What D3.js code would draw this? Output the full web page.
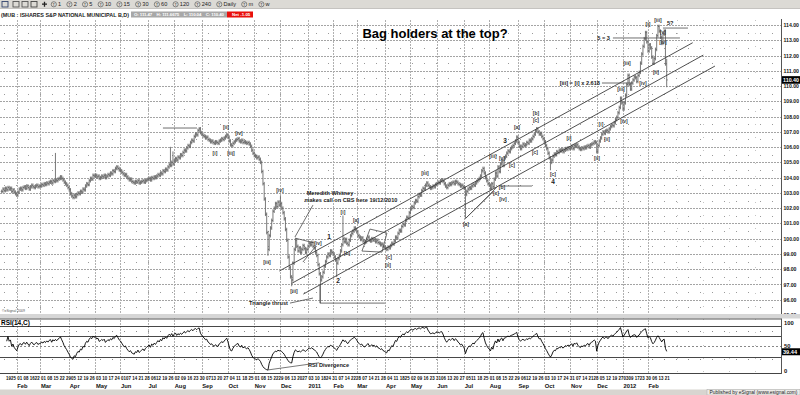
<!DOCTYPE html>
<meta charset="utf-8">
<body style="margin:0;background:#fff">
<svg width="800" height="395"></svg>
<script src="https://cdn.jsdelivr.net/npm/d3@7"></script>
<script>
// ---- data ----
const firstDay = "2010-01-13", lastDay = "2012-02-23";
const holidays = ["2010-01-18","2010-02-15","2010-04-02","2010-05-31","2010-07-05","2010-09-06","2010-11-25","2010-12-24",
  "2011-01-17","2011-02-21","2011-04-22","2011-05-30","2011-07-04","2011-09-05","2011-11-24","2011-12-26",
  "2012-01-02","2012-01-16","2012-02-20"];

// daily closes, one array per year
const close2010 = [
  103.10,103.25,103.15,103.30,103.20,103.35,103.25,103.30,103.10,103.20,103.05,102.95,
  102.85,103.05,103.25,103.30,103.20,103.35,103.40,103.30,103.45,103.35,103.25,103.40,103.50,103.40,103.35,103.45,103.50,103.40,103.45,
  103.45,103.55,103.50,103.60,103.55,103.65,103.60,103.70,103.75,103.65,103.80,103.75,103.85,103.80,103.90,103.95,104.05,103.95,103.85,103.70,103.60,103.50,103.35,
  103.20,102.95,102.80,102.70,102.85,102.75,102.90,103.00,102.95,103.10,103.05,103.25,103.20,103.45,103.60,103.55,103.80,103.95,103.90,104.15,104.10,
  104.15,104.05,104.10,103.95,104.00,104.10,104.05,104.15,104.00,104.10,104.20,104.15,104.30,104.25,104.45,104.40,104.60,104.70,104.60,104.50,
  104.45,104.35,104.25,104.15,104.20,104.05,103.95,103.85,103.90,103.75,103.70,103.65,103.75,103.70,103.80,103.65,103.70,103.75,103.80,103.70,103.80,103.85,
  103.90,103.95,103.85,104.00,103.95,104.05,104.00,104.10,104.20,104.15,104.30,104.25,104.45,104.40,104.55,104.50,104.70,104.85,104.80,105.00,104.90,
  105.10,105.25,105.15,105.35,105.30,105.50,105.45,105.65,105.80,105.75,105.95,106.10,106.05,106.30,106.45,106.40,106.70,106.85,106.80,107.10,107.20,106.95,
  106.85,106.75,106.70,106.60,106.65,106.50,106.45,106.35,106.40,106.30,106.25,106.35,106.30,106.25,106.40,106.45,106.55,106.50,106.60,106.70,106.80,
  106.65,106.40,106.15,106.10,106.25,106.35,106.45,106.50,106.55,106.40,106.35,106.45,106.30,106.35,106.30,106.25,106.30,106.20,106.05,105.80,105.60,
  105.45,105.40,105.30,105.35,105.20,105.00,104.40,103.60,102.60,101.60,100.40,99.30,100.20,100.70,101.20,101.80,102.00,102.30,102.10,102.40,102.20,
  102.30,102.00,101.70,101.30,100.60,99.90,98.80,98.10,97.50,97.30,98.40,99.30,99.90,99.50,99.20,99.40,99.10,99.30,99.55,99.35,99.10,99.30
];
const close2011 = [
  99.50,99.70,99.60,99.75,99.50,99.40,99.10,98.90,98.30,97.70,97.30,97.50,97.80,98.20,98.50,98.80,99.00,98.90,99.20,99.10,
  99.00,98.80,98.60,98.40,98.70,98.90,99.20,99.60,100.00,99.80,99.95,99.70,99.60,99.90,100.20,100.35,100.50,100.70,100.60,
  100.45,100.20,100.10,99.95,100.05,99.85,99.75,99.80,99.95,100.10,99.90,99.85,100.00,99.90,99.95,99.80,99.90,99.75,99.70,99.60,99.65,99.50,99.45,
  99.35,99.30,99.45,99.40,99.55,99.70,99.65,99.85,100.10,100.05,100.35,100.55,100.50,100.80,100.95,100.90,101.20,101.40,101.35,101.70,
  101.95,102.10,102.05,102.35,102.50,102.45,102.75,102.90,102.85,103.15,103.30,103.25,103.50,103.65,103.50,103.40,103.30,103.35,103.45,103.40,103.55,
  103.60,103.70,103.65,103.80,103.85,103.75,103.60,103.45,103.35,103.50,103.60,103.55,103.65,103.70,103.60,103.75,103.70,103.60,103.55,103.45,103.50,103.40,
  103.30,102.90,103.10,103.25,103.35,103.30,103.45,103.55,103.50,103.65,103.75,103.85,103.95,104.10,104.45,104.60,104.30,104.00,103.80,103.60,
  103.50,103.30,103.60,103.40,103.90,104.30,104.10,104.70,104.40,104.90,105.10,104.80,105.30,105.40,105.60,105.75,105.70,105.90,106.00,106.10,106.25,106.40,106.65,
  106.30,106.05,105.90,106.05,106.20,106.10,106.15,106.30,106.25,106.45,106.40,106.55,106.70,106.85,107.05,107.20,107.00,106.85,106.90,106.70,106.55,
  106.35,106.10,105.90,105.60,105.30,105.00,105.15,105.40,105.55,105.50,105.70,105.65,105.80,105.75,105.85,105.70,105.80,105.90,105.85,105.95,105.90,
  105.95,106.05,105.90,106.10,106.05,106.15,106.00,105.90,105.85,105.95,105.90,106.00,105.95,106.05,106.10,106.00,106.15,106.20,106.25,106.35,106.30,
  105.70,106.10,106.40,106.60,106.85,107.00,106.90,107.05,107.10,107.00,107.20,107.35,107.45,107.40,107.60,107.80,107.95,108.25,108.60,109.20,108.90
];
const close2012 = [
  108.50,108.90,109.40,110.10,110.70,110.10,109.80,110.20,110.40,110.60,110.55,110.30,110.70,110.90,111.50,112.10,112.60,113.10,113.50,112.90,
  112.30,112.70,112.50,111.90,111.50,111.80,112.40,113.30,113.90,113.60,113.20,112.80,113.40,113.60,111.45,110.40
];
const lastBar = { o: 111.47, h: 111.6675, l: 110.04, c: 110.40 };
const rsiLast = 39.44;

// bars whose range reached well past open/close: [bar, high, low]
const spikes = [[43,105.5,null],[135,105.9,null],[137,105.6,null],[213,null,99.0],[223,102.7,null],
  [232,null,97.0],[255,null,95.9],[268,null,97.6],[273,101.4,null],[371,null,101.4],[439,null,104.6]];

const priceTicks = [95,96,97,98,99,100,101,102,103,104,105,106,107,108,109,110,111,112,113,114];
const rsiLines = [90, 70, 30];
const rsiDots = [80, 50, 25];
const rsiTickLabels = [100, 50, 0];
const intervals = ["1","2","5","10","15","30","60","120","240","Daily","m","w"];

// elliott wave labels: [bar, price, text]
const waveLabels = [
  [179.4,107.32,"[ii]"],[189.8,106.92,"[iv]"],[170.6,105.61,"[i]"],[183.4,105.61,"[iii]"],
  [222.6,103.19,"[iv]"],[212.2,98.47,"[iii]"],[233.8,96.57,"[iii]"],[253.0,99.71,"[iv]"],
  [273.0,101.75,"[i]"],[283.4,101.22,"[a]"],[276.2,99.06,"[b]"],[309.8,98.80,"[c]"],[309.0,98.27,"[ii]"],
  [338.6,104.30,"[iii]"],[371.4,100.96,"[a]"],[395.4,102.99,"[c]"],[400.2,103.38,"[b]"],[401.0,102.60,"[iv]"],
  [393.0,105.42,"[iii]"],[400.2,105.28,"[v]"],[408.2,104.83,"[c]"],[412.2,107.32,"[a]"],
  [427.4,108.23,"[b]"],[427.4,107.77,"[c]"],[426.6,105.68,"[c]"],[441.0,104.24,"[c]"],
  [453.8,106.60,"[i]"],[476.2,105.28,"[ii]"],[479.4,107.51,"[i]"],[484.2,106.53,"[ii]"],
  [497.8,107.71,"[iv]"],[495.4,109.81,"[iii]"],[500.2,111.51,"[iii]"],[513.0,110.20,"[iv]"],
  [523.4,110.92,"[ii]"],[529.0,112.89,"[iv]"],[517.0,114.07,"[i]"],[525.0,114.33,"[iii]"],[529.0,113.54,"[v]"]
];
// wave counts in plain numbers: [bar, price, text]
const countLabels = [[261.8,100.11,"1"],[269.0,97.22,"2"],[402.6,106.40,"3"],[441.0,103.71,"4"]];
// notes: [bar, price, anchor, text]
const notes = [
  [229.0,95.78,"end","Triangle thrust"],
  [262.6,102.99,"middle","Meredith Whitney"],
  [279.4,102.53,"middle","makes call on CBS here 19/12/2010"],
  [478.6,110.20,"end","[iii] = [i] x 2.618"],
  [486.6,113.15,"end","5 = 3"],
  [532.2,114.13,"start","5?"]
];
// drawn lines: lists of [bar, price]
const channels = [
  [[222.1,97.88],[552.8,112.84]],
  [[232.0,97.07],[561.3,112.03]],
  [[241.3,96.37],[570.6,111.31]]
];
const sketches = [
  [[129.0,107.25],[156.2,107.25]],
  [[249.0,102.20],[234.6,100.11]],
  [[234.6,100.04],[250.6,99.71]],
  [[241.0,98.47],[250.6,99.44]],
  [[230.6,95.78],[249.0,96.11]],
  [[254.6,96.96],[254.6,95.78],[306.6,95.78]],
  [[294.6,100.63],[308.2,100.37],[304.2,99.12],[288.2,99.19],[294.6,100.63]],
  [[371.4,101.35],[396.2,103.38]],
  [[371.4,101.35],[393.0,103.06]],
  [[398.6,103.45],[424.2,103.45]],
  [[480.2,110.20],[504.2,110.20]],
  [[489.0,113.15],[542.6,113.15]],
  [[529.0,113.80],[549.0,113.80]]
];
// RSI divergence line: [bar, rsi]
const rsiDivergence = [[213, 4], [254, 18]];

// ---- setup ----
const svg = d3.select("svg").attr("font-family", "'Liberation Sans', Arial, sans-serif");
const closes = close2010.concat(close2011, close2012);
const N = closes.length;
const parse = d3.utcParse("%Y-%m-%d"), key = d3.utcFormat("%Y-%m-%d");
const hol = new Set(holidays);
const days = d3.utcDay.range(parse(firstDay), d3.utcDay.offset(parse(lastDay), 1))
  .filter(d => d.getUTCDay() % 6 !== 0 && !hol.has(key(d))).slice(0, N);

const axisX = 781;
const x = d3.scaleLinear().domain([0, N - 1]).range([1.7, 1.7 + 1.25 * (N - 1)]);
const y = d3.scaleLinear().domain([95, 114]).range([315, 25]);
const yr = d3.scaleLinear().domain([0, 100]).range([372, 320.7]);

svg.append("rect").attr("width", 800).attr("height", 395).attr("fill", "#fff");

// ---- grid ----
const grid = svg.append("g");
priceTicks.forEach(t => {
  grid.append("line").attr("x1", 0).attr("x2", axisX).attr("y1", Math.round(y(t)) + .5).attr("y2", Math.round(y(t)) + .5)
    .attr("stroke", "#a4a4a4").attr("stroke-dasharray", "2,1");
  if (t < 114) grid.append("line").attr("x1", 4).attr("x2", axisX).attr("y1", Math.round(y(t + .5)) + .5).attr("y2", Math.round(y(t + .5)) + .5)
    .attr("stroke", "#9a9a9a").attr("stroke-dasharray", "1,11");
});
const monthStarts = days.map((d, i) => i).filter(i => i > 0 && days[i].getUTCMonth() !== days[i - 1].getUTCMonth());
monthStarts.forEach(i => {
  grid.append("line").attr("x1", Math.round(x(i)) + .5).attr("x2", Math.round(x(i)) + .5).attr("y1", 20).attr("y2", 373)
    .attr("stroke", "#b0b0b0").attr("stroke-dasharray", "2,1");
});
// dotted columns over the empty right side
d3.range(1, 5).forEach(k => {
  const xx = Math.round(x(N - 1) + 26 * k - 16) + .5;
  if (xx < axisX - 5) grid.append("line").attr("x1", xx).attr("x2", xx).attr("y1", 20).attr("y2", 373)
    .attr("stroke", "#c4c4c4").attr("stroke-dasharray", "1,12");
});

// ---- price bars ----
const spikeMap = new Map(spikes.map(s => [s[0], s]));
let dBars = "";
closes.forEach((c, i) => {
  let o = i ? closes[i - 1] : c, hi = Math.max(o, c), lo = Math.min(o, c);
  if (i === N - 1) { o = lastBar.o; hi = lastBar.h; lo = lastBar.l; c = lastBar.c; }
  const s = spikeMap.get(i);
  if (s) { if (s[1] != null) hi = Math.max(hi, s[1]); if (s[2] != null) lo = Math.min(lo, s[2]); }
  const xi = x(i);
  dBars += `M${xi},${y(hi) - 1.8}V${y(lo) + 1.8}M${xi - 1},${y(o)}H${xi}M${xi},${y(c)}H${xi + 1}`;
});
svg.append("path").attr("d", dBars).attr("fill", "none").attr("stroke", "#6a6a6a").attr("stroke-width", 0.9);

// ---- drawn lines ----
const lineGen = d3.line().x(d => x(d[0])).y(d => y(d[1]));
svg.append("g").selectAll("path").data(channels).join("path")
  .attr("d", lineGen).attr("fill", "none").attr("stroke", "#3c3c3c").attr("stroke-width", 0.9);
svg.append("g").selectAll("path").data(sketches).join("path")
  .attr("d", lineGen).attr("fill", "none").attr("stroke", "#4a4a4a").attr("stroke-width", 0.8);

// ---- labels ----
svg.append("g").selectAll("text").data(waveLabels).join("text")
  .attr("x", d => x(d[0])).attr("y", d => y(d[1])).attr("dy", "0.35em")
  .attr("text-anchor", "middle").attr("font-size", 5).attr("font-weight", "bold").attr("fill", "#3a3a3a")
  .text(d => d[2]);
svg.append("g").selectAll("text").data(countLabels).join("text")
  .attr("x", d => x(d[0])).attr("y", d => y(d[1])).attr("dy", "0.35em")
  .attr("text-anchor", "middle").attr("font-size", 6.5).attr("font-weight", "bold").attr("fill", "#222")
  .text(d => d[2]);
svg.append("g").selectAll("text").data(notes).join("text")
  .attr("x", d => x(d[0])).attr("y", d => y(d[1])).attr("dy", "0.35em")
  .attr("text-anchor", d => d[2]).attr("font-size", 5.6).attr("font-weight", "bold").attr("fill", "#222")
  .text(d => d[3]);

svg.append("text").attr("x", 435).attr("y", 38).attr("text-anchor", "middle")
  .attr("font-size", 13).attr("font-weight", "bold").attr("fill", "#000").text("Bag holders at the top?");

svg.append("text").attr("x", 2).attr("y", 312).attr("font-size", 3.5).attr("fill", "#555").text("©eSignal 2009");

// ---- right price axis ----
svg.append("line").attr("x1", axisX + .5).attr("x2", axisX + .5).attr("y1", 19).attr("y2", 374).attr("stroke", "#555");
svg.append("g").selectAll("text").data(priceTicks).join("text")
  .attr("x", axisX + 2.5).attr("y", d => y(d)).attr("dy", "0.35em")
  .attr("font-size", 5.8).attr("font-weight", "bold").attr("fill", "#111")
  .attr("textLength", d => d >= 100 ? 15.5 : 13).attr("lengthAdjust", "spacingAndGlyphs")
  .text(d => d.toFixed(2));
svg.append("rect").attr("x", axisX + 1).attr("y", y(lastBar.c) - 3.8).attr("width", 19).attr("height", 7.6).attr("fill", "#000");
svg.append("text").attr("x", axisX + 2).attr("y", y(lastBar.c)).attr("dy", "0.35em")
  .attr("font-size", 5.8).attr("font-weight", "bold").attr("fill", "#fff")
  .attr("textLength", 16).attr("lengthAdjust", "spacingAndGlyphs").text(lastBar.c.toFixed(2));

// ---- RSI panel ----
svg.append("rect").attr("x", 0).attr("y", 314).attr("width", 800).attr("height", 4.5).attr("fill", "#d6d6d6");
svg.append("line").attr("x1", 0).attr("x2", axisX).attr("y1", 319).attr("y2", 319).attr("stroke", "#555");
rsiLines.forEach(v => svg.append("line").attr("x1", 0).attr("x2", axisX)
  .attr("y1", Math.round(yr(v)) + .5).attr("y2", Math.round(yr(v)) + .5).attr("stroke", "#333").attr("stroke-width", 0.9));
rsiDots.forEach(v => svg.append("line").attr("x1", 4).attr("x2", axisX)
  .attr("y1", Math.round(yr(v)) + .5).attr("y2", Math.round(yr(v)) + .5)
  .attr("stroke", "#888").attr("stroke-dasharray", v === 50 ? "2,2" : "1,11"));
svg.append("line").attr("x1", 0).attr("x2", axisX).attr("y1", 373.5).attr("y2", 373.5).attr("stroke", "#444");

// RSI(14) from the closes, Wilder smoothing
const rsiPts = [];
{
  const n = 14; let g = 0, l = 0;
  const series = closes.slice(0, N - 1).concat([lastBar.c]);
  for (let i = 1; i < N; i++) {
    const ch = series[i] - series[i - 1], up = Math.max(ch, 0), dn = Math.max(-ch, 0);
    if (i <= n) { g += up; l += dn; }
    else { g = (g * (n - 1) + up) / n; l = (l * (n - 1) + dn) / n; }
    const ag = i <= n ? g / i : g, al = i <= n ? l / i : l;
    if (i === n) { g = ag; l = al; }
    if (i >= 4) rsiPts.push([i, al === 0 ? 100 : 100 - 100 / (1 + ag / al)]);
  }
}
svg.append("path").datum(rsiPts)
  .attr("d", d3.line().x(d => x(d[0])).y(d => yr(d[1])))
  .attr("fill", "none").attr("stroke", "#000").attr("stroke-width", 0.9);
svg.append("text").attr("x", 1).attr("y", 325).attr("font-size", 6.5).attr("font-weight", "bold").text("RSI(14,C)");
svg.append("g").selectAll("text").data(rsiTickLabels).join("text")
  .attr("x", axisX + 3).attr("y", d => yr(d) + (d === 100 ? 2 : d === 0 ? -1.5 : 0)).attr("dy", "0.35em")
  .attr("font-size", 5.8).attr("font-weight", "bold").attr("fill", "#111").text(d => d);
svg.append("rect").attr("x", axisX + 1).attr("y", yr(rsiLast) - 3.5).attr("width", 19).attr("height", 7).attr("fill", "#000");
svg.append("text").attr("x", axisX + 2).attr("y", yr(rsiLast)).attr("dy", "0.35em")
  .attr("font-size", 5.8).attr("font-weight", "bold").attr("fill", "#fff")
  .attr("textLength", 14).attr("lengthAdjust", "spacingAndGlyphs").text(rsiLast.toFixed(2));
svg.append("text").attr("x", 308).attr("y", 366.5).attr("font-size", 5.6).attr("font-weight", "bold").attr("fill", "#222").text("RSI Divergence");
svg.append("path").datum(rsiDivergence)
  .attr("d", d3.line().x(d => x(d[0])).y(d => yr(d[1]))).attr("stroke", "#555").attr("stroke-width", 0.8);

// ---- date axis ----
const dayFmt = d3.utcFormat("%d"), monFmt = d3.utcFormat("%b"), yrFmt = d3.utcFormat("%Y");
const weekStarts = days.map((d, i) => i).filter(i => i > 0 && d3.utcMonday.floor(days[i]) > d3.utcMonday.floor(days[i - 1]));
const dayG = svg.append("g").attr("font-size", 5.4).attr("font-weight", "bold").attr("fill", "#111");
let lastEnd = -10;
weekStarts.forEach(i => {
  const xx = x(i) + 0.5;
  if (xx < lastEnd - 0.3) return;
  dayG.append("text").attr("x", xx).attr("y", 379.5).attr("textLength", 4.9).attr("lengthAdjust", "spacingAndGlyphs").text(dayFmt(days[i]));
  lastEnd = xx + 4.9;
});
svg.append("g").selectAll("text").data(monthStarts).join("text")
  .attr("x", i => x(i) + 0.5).attr("y", 388).attr("font-size", 5.8).attr("font-weight", "bold").attr("fill", "#111")
  .text(i => days[i].getUTCMonth() === 0 ? yrFmt(days[i]) : monFmt(days[i]));

// ---- bottom status bar ----
svg.append("rect").attr("x", 0).attr("y", 389.5).attr("width", 800).attr("height", 5.5).attr("fill", "#d8d5d0");
svg.append("rect").attr("x", 707).attr("y", 389.5).attr("width", 93).attr("height", 5.5).attr("fill", "#ecebe8").attr("stroke", "#aaa").attr("stroke-width", 0.5);
svg.append("text").attr("x", 797.5).attr("y", 394.2).attr("text-anchor", "end").attr("font-size", 4.8).attr("fill", "#222")
  .attr("textLength", 88).attr("lengthAdjust", "spacingAndGlyphs")
  .text("Published by eSignal (www.esignal.com)");

// ---- header ----
const hdr = svg.append("g");
hdr.append("text").attr("x", 1).attr("y", 16.5).attr("font-size", 5.8).attr("font-weight", "bold").attr("fill", "#1a1a1a")
  .attr("textLength", 128).attr("lengthAdjust", "spacingAndGlyphs")
  .text("(MUB : ISHARES S&P NATIONAL MUNICIPAL B,D)");
const fmtPx = v => (String(v).split(".")[1] || "").length > 2 ? String(v) : v.toFixed(2);
hdr.append("rect").attr("x", 131).attr("y", 11.5).attr("width", 96).attr("height", 6).attr("fill", "#a8a8a8");
hdr.append("text").attr("x", 134).attr("y", 16.3).attr("font-size", 4.4).attr("font-weight", "bold").attr("fill", "#fff")
  .attr("xml:space", "preserve").attr("textLength", 90).attr("lengthAdjust", "spacing")
  .text(`O: ${fmtPx(lastBar.o)}    H: ${fmtPx(lastBar.h)}    L: ${fmtPx(lastBar.l)}    C: ${fmtPx(lastBar.c)}`);
const net = lastBar.c - closes[N - 2];
hdr.append("rect").attr("x", 227).attr("y", 11.5).attr("width", 26).attr("height", 6).attr("fill", "#e8100c");
hdr.append("text").attr("x", 232).attr("y", 16.3).attr("font-size", 4.4).attr("font-weight", "bold").attr("fill", "#fff")
  .text(`Net ${net.toFixed(2)}`);

// ---- toolbar ----
const tb = svg.append("g");
tb.append("rect").attr("width", 800).attr("height", 8.5).attr("fill", "#dcdad5");
tb.append("line").attr("x1", 0).attr("x2", 800).attr("y1", 8.5).attr("y2", 8.5).attr("stroke", "#a9a7a2").attr("stroke-width", 0.6);
[[2, "#33446e"], [13, "#555"], [22, "#555"], [31, "#444"]].forEach(([xx, col]) => {
  tb.append("rect").attr("x", xx).attr("y", 1.5).attr("width", 6).attr("height", 5.5).attr("fill", "none").attr("stroke", col).attr("stroke-width", 0.9);
});
tb.append("path").attr("d", "M42,4.2H47M44.5,1.7V6.7").attr("stroke", "#222").attr("stroke-width", 1.3);
let tx = 51;
intervals.forEach(lbl => {
  tb.append("circle").attr("cx", tx + 2.8).attr("cy", 4.3).attr("r", 2.6).attr("fill", "none").attr("stroke", "#444").attr("stroke-width", 0.6);
  tb.append("text").attr("x", tx + 2.8).attr("y", 5.9).attr("text-anchor", "middle").attr("font-size", 4).attr("fill", "#333").text("T");
  const t = tb.append("text").attr("x", tx + 7).attr("y", 6.3).attr("font-size", 5.6).attr("fill", "#222").text(lbl);
  tx += 7 + t.node().getComputedTextLength() + 5.5;
});
</script>
</body>
